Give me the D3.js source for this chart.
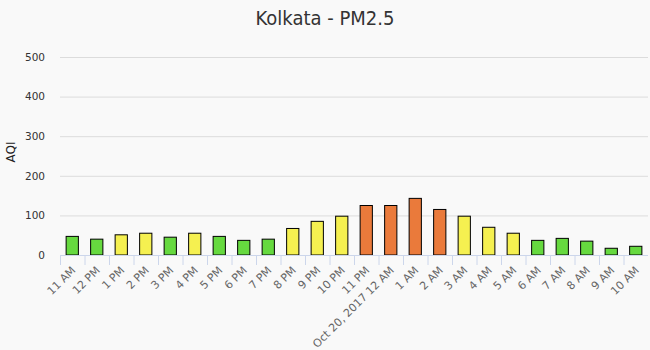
<!DOCTYPE html>
<html>
<head>
<meta charset="utf-8">
<script src="https://cdn.jsdelivr.net/npm/d3@7"></script>
<style>
  html, body { margin: 0; padding: 0; background: #f9f9f9; }
  svg { display: block; }
  text { font-family: "DejaVu Sans", sans-serif; }
</style>
</head>
<body>
<svg id="chart" width="650" height="350"></svg>
<script>
// Hourly PM2.5 AQI readings for Kolkata
const categories = ["11 AM", "12 PM", "1 PM", "2 PM", "3 PM", "4 PM", "5 PM", "6 PM",
  "7 PM", "8 PM", "9 PM", "10 PM", "11 PM", "Oct 20, 2017 12 AM", "1 AM", "2 AM",
  "3 AM", "4 AM", "5 AM", "6 AM", "7 AM", "8 AM", "9 AM", "10 AM"];
const aqiValues = [47, 40, 51, 55, 45, 55, 47, 37, 40, 67, 85, 98, 125, 125, 143, 115,
  98, 70, 55, 37, 42, 35, 17, 22];
const yTicks = [0, 100, 200, 300, 400, 500];
// AQI band upper limits and their colours
const bandLimits = [50, 100, 150];
const bandColors = ["#66d93f", "#f5f050", "#ea7a3b"];

const svg = d3.select("#chart");
const plotLeft = 60, plotRight = 648, plotTop = 57, plotBottom = 255;

const x = d3.scaleBand().domain(categories).range([plotLeft, plotRight]).paddingInner(0.5).paddingOuter(0.25);
const xb = d3.scaleBand().domain(categories).range([plotLeft, plotRight]);
const y = d3.scaleLinear().domain([0, 500]).range([plotBottom, plotTop]);
const color = d3.scaleThreshold().domain(bandLimits.map(v => v + 0.5)).range(bandColors);

svg.append("text")
  .attr("x", 325).attr("y", 25)
  .attr("text-anchor", "middle")
  .style("font-family", "'DejaVu Sans Condensed', 'DejaVu Sans', sans-serif")
  .style("font-size", "20px")
  .attr("fill", "#333")
  .text("Kolkata - PM2.5");

// gridlines and y labels
const yAxis = svg.append("g").attr("transform", `translate(${plotLeft},0)`)
  .call(d3.axisLeft(y).tickValues(yTicks).tickSize(-(plotRight - plotLeft)).tickPadding(15));
yAxis.select(".domain").remove();
yAxis.selectAll(".tick line").attr("stroke", "#dcdcdc");
yAxis.selectAll(".tick text").attr("fill", "#333").style("font-size", "10.5px");

svg.append("text")
  .attr("transform", `translate(15,${(plotTop + plotBottom) / 2 - 4}) rotate(-90)`)
  .attr("text-anchor", "middle")
  .style("font-size", "12px")
  .attr("fill", "#222")
  .text("AQI");

// bars
svg.append("g").selectAll("rect").data(aqiValues).join("rect")
  .attr("x", (d, i) => x(categories[i]))
  .attr("y", d => y(d))
  .attr("width", x.bandwidth())
  .attr("height", d => y(0) - y(d))
  .attr("fill", d => color(d))
  .attr("stroke", "#000")
  .attr("stroke-width", 1);

// x axis line and boundary ticks
const xAxis = svg.append("g");
xAxis.append("line").attr("x1", plotLeft).attr("x2", plotRight).attr("y1", plotBottom + 0.5).attr("y2", plotBottom + 0.5)
  .attr("stroke", "#ccd6eb");
xAxis.selectAll("line.tk").data(categories).join("line").attr("class", "tk")
  .attr("x1", d => xb(d) + 0.5).attr("x2", d => xb(d) + 0.5)
  .attr("y1", plotBottom).attr("y2", plotBottom + 10)
  .attr("stroke", "#ccd6eb");
xAxis.selectAll("text").data(categories).join("text")
  .attr("transform", d => `translate(${xb(d) + xb.bandwidth() / 2 + 4},${plotBottom + 16}) rotate(-45)`)
  .attr("text-anchor", "end")
  .style("font-size", "11px")
  .attr("fill", "#666")
  .text(d => d);
</script>
</body>
</html>
